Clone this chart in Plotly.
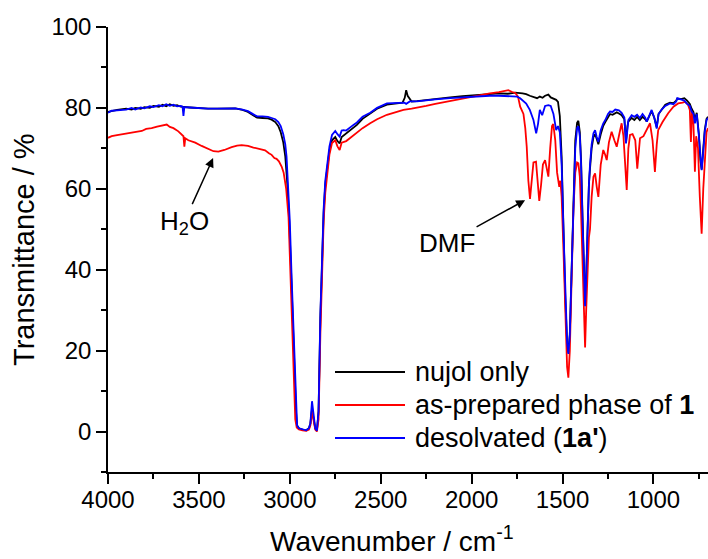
import plotly.graph_objects as go

# ---------------- data ----------------
nujol_wn = [4000, 3980, 3950, 3900, 3870, 3850, 3820, 3800, 3770, 3750, 3720, 3700, 3680, 3660, 3640, 3620,
            3600, 3550, 3500, 3450, 3400, 3350, 3300, 3260, 3230, 3200, 3180, 3150, 3120, 3100, 3080, 3063,
            3050, 3036, 3025, 3015, 3005, 2995, 2985, 2975, 2966, 2960, 2950, 2930, 2910, 2895, 2887, 2878,
            2870, 2860, 2851, 2842, 2832, 2823, 2814, 2805, 2796, 2782, 2768, 2750, 2738, 2726, 2715, 2704,
            2690, 2670, 2650, 2631, 2600, 2558, 2520, 2466, 2420, 2380, 2368, 2360, 2352, 2340, 2330, 2301,
            2250, 2200, 2118, 2050, 2000, 1950, 1900, 1850, 1800, 1760, 1720, 1700, 1680, 1660, 1640, 1625,
            1610, 1596, 1578, 1565, 1550, 1535, 1525, 1515, 1505, 1495, 1485, 1475, 1468, 1460, 1450, 1440,
            1430, 1420, 1413, 1405, 1398, 1390, 1382, 1376, 1370, 1362, 1355, 1349, 1340, 1330, 1321, 1312,
            1303, 1290, 1276, 1265, 1250, 1239, 1225, 1210, 1202, 1190, 1175, 1160, 1151, 1143, 1138, 1120,
            1105, 1090, 1075, 1060, 1045, 1037, 1025, 1010, 995, 982, 972, 955, 935, 909, 890, 875,
            869, 850, 830, 815, 800, 790, 780, 772, 762, 750, 742, 735, 728, 718, 708, 700]
nujol_T = [79.0, 79.2, 79.5, 79.8, 79.6, 80.0, 79.8, 80.2, 80.0, 80.5, 80.3, 80.8, 80.4, 80.9, 80.5, 80.7,
           80.3, 80.1, 79.9, 79.8, 79.8, 79.9, 79.9, 79.5, 79.0, 78.1, 77.6, 77.5, 77.4, 77.1, 76.5, 75.5,
           74.0, 71.5, 68.0, 62.0, 54.0, 42.0, 28.0, 15.0, 5.0, 1.5, 0.8, 0.5, 0.3, 0.8, 2.0, 5.5,
           3.5, 0.8, 0.2, 5.0, 28.0, 44.0, 54.0, 61.0, 65.0, 69.5, 72.0, 72.8, 71.8, 71.2, 72.8, 73.2,
           73.5, 74.2, 75.0, 75.8, 77.3, 78.6, 79.8, 80.8, 81.0, 81.3, 82.5, 84.4, 83.0, 82.2, 81.6, 81.7,
           82.0, 82.3, 82.6, 82.9, 83.1, 83.3, 83.5, 83.6, 83.5, 83.8, 83.6, 83.4, 83.0, 82.7, 82.4, 82.8,
           82.5, 83.0, 83.3, 82.6, 82.2, 82.0, 81.5, 78.0, 68.0, 50.0, 33.0, 22.0, 19.5, 24.0, 40.0, 60.0,
           72.0, 76.3, 76.8, 74.0, 67.0, 53.0, 39.0, 31.5, 38.0, 52.0, 61.0, 65.0, 70.0, 72.8, 73.5, 72.3,
           71.0, 73.5, 75.6, 76.5, 77.8, 78.5, 78.3, 78.8, 78.9, 78.6, 78.2, 77.2, 71.5, 75.5, 76.6, 77.5,
           77.0, 77.8, 77.0, 77.8, 77.2, 76.6, 77.8, 79.2, 77.5, 75.2, 78.5, 79.6, 80.8, 81.3, 81.2, 81.8,
           82.3, 82.2, 82.4, 81.8, 81.0, 79.8, 79.0, 77.0, 78.8, 73.5, 67.0, 64.8, 68.5, 74.5, 77.3, 77.8]

prep_wn = [4000, 3980, 3950, 3900, 3870, 3850, 3814, 3790, 3760, 3730, 3700, 3677, 3660, 3640, 3613, 3595,
           3585, 3580, 3575, 3558, 3520, 3485, 3450, 3420, 3393, 3360, 3320, 3290, 3265, 3230, 3200, 3160,
           3136, 3115, 3100, 3085, 3073, 3060, 3045, 3034, 3020, 3007, 2998, 2988, 2978, 2970, 2962, 2950,
           2930, 2910, 2895, 2887, 2878, 2870, 2860, 2851, 2842, 2832, 2823, 2814, 2805, 2796, 2782, 2768,
           2750, 2738, 2726, 2715, 2704, 2690, 2670, 2650, 2631, 2600, 2558, 2520, 2466, 2420, 2375, 2330,
           2301, 2250, 2200, 2118, 2050, 2000, 1950, 1900, 1850, 1820, 1798, 1780, 1760, 1745, 1733, 1715,
           1705, 1697, 1688, 1679, 1670, 1660, 1646, 1637, 1628, 1618, 1608, 1596, 1588, 1578, 1568, 1558,
           1551, 1540, 1530, 1518, 1512, 1505, 1495, 1485, 1475, 1468, 1460, 1450, 1440, 1430, 1420, 1413,
           1405, 1398, 1390, 1382, 1376, 1370, 1362, 1355, 1349, 1340, 1330, 1321, 1312, 1303, 1290, 1276,
           1266, 1257, 1245, 1230, 1215, 1202, 1188, 1175, 1165, 1147, 1138, 1129, 1115, 1100, 1089, 1080,
           1074, 1055, 1037, 1019, 1005, 992, 982, 974, 950, 919, 890, 864, 840, 827, 810, 800,
           794, 788, 780, 772, 765, 755, 745, 735, 726, 716, 708, 700]
prep_T = [72.6, 73.0, 73.3, 73.7, 73.9, 74.2, 74.3, 74.8, 75.0, 75.4, 75.6, 75.9, 75.3, 75.0, 74.2, 73.5,
          73.0, 70.4, 72.5, 72.0, 71.4, 70.6, 69.8, 69.3, 69.2, 69.6, 70.3, 70.7, 70.8, 70.6, 70.2, 69.8,
          69.5, 68.8, 68.4, 67.6, 67.4, 66.8, 65.5, 64.0, 60.0, 53.0, 42.0, 28.0, 13.0, 3.0, 1.0, 0.5,
          0.3, 0.2, 0.5, 1.5, 5.0, 2.5, 0.5, 0.0, 3.0, 24.0, 40.0, 52.0, 59.0, 63.5, 68.5, 71.3,
          72.0, 70.5, 69.6, 71.4, 71.6, 71.8, 72.5, 73.2, 73.7, 75.0, 76.2, 77.2, 78.3, 79.0, 79.5, 79.8,
          80.0, 80.5, 81.0, 81.8, 82.3, 82.7, 83.2, 83.6, 83.9, 84.2, 84.4, 84.0, 83.7, 82.8, 80.3, 78.5,
          75.0, 70.4, 62.0, 57.5, 62.0, 66.5, 66.7, 61.0, 57.0, 61.0, 66.0, 67.1, 65.0, 63.0, 70.0, 75.5,
          76.0, 72.0, 64.0, 60.5, 62.0, 58.0, 45.0, 28.0, 16.0, 13.3, 20.0, 38.0, 55.0, 64.0, 66.5, 66.3,
          63.0, 54.0, 40.0, 27.0, 20.8, 30.0, 42.0, 48.0, 50.0, 58.0, 63.0, 63.8, 60.5, 58.0, 66.0, 69.6,
          68.5, 67.1, 71.5, 74.1, 72.0, 70.4, 73.5, 76.2, 73.0, 59.7, 70.0, 73.3, 73.5, 72.0, 65.0, 70.0,
          72.5, 73.0, 74.5, 76.2, 72.0, 64.2, 71.0, 74.5, 76.5, 78.7, 80.3, 81.1, 81.3, 81.5, 80.8, 79.5,
          71.6, 79.0, 76.0, 64.2, 73.0, 70.0, 58.0, 48.9, 60.0, 70.0, 74.0, 75.0]

desolv_wn = [4000, 3980, 3950, 3900, 3870, 3850, 3820, 3800, 3770, 3750, 3720, 3700, 3680, 3660, 3640, 3620,
             3600, 3590, 3585, 3580, 3550, 3500, 3450, 3400, 3350, 3300, 3260, 3230, 3200, 3180, 3150, 3120,
             3100, 3080, 3063, 3050, 3036, 3025, 3018, 3007, 3000, 2990, 2979, 2970, 2964, 2960, 2950, 2930,
             2910, 2895, 2887, 2878, 2870, 2860, 2851, 2842, 2832, 2823, 2814, 2805, 2796, 2782, 2768, 2750,
             2738, 2726, 2715, 2704, 2690, 2670, 2650, 2631, 2600, 2558, 2520, 2466, 2420, 2393, 2370, 2360,
             2340, 2301, 2250, 2200, 2118, 2050, 2000, 1950, 1900, 1850, 1800, 1750, 1733, 1720, 1700, 1680,
             1660, 1645, 1635, 1625, 1612, 1596, 1578, 1565, 1550, 1535, 1525, 1515, 1505, 1495, 1485, 1475,
             1468, 1460, 1450, 1440, 1430, 1420, 1413, 1405, 1398, 1390, 1382, 1376, 1370, 1362, 1355, 1349,
             1340, 1330, 1321, 1312, 1303, 1290, 1276, 1265, 1250, 1239, 1225, 1210, 1202, 1190, 1175, 1160,
             1151, 1143, 1138, 1120, 1105, 1090, 1075, 1060, 1045, 1037, 1025, 1010, 995, 982, 972, 955,
             935, 909, 890, 875, 869, 850, 830, 815, 800, 790, 780, 772, 762, 750, 742, 735,
             728, 718, 708, 700]
desolv_T = [78.8, 79.3, 79.4, 79.6, 80.0, 79.6, 80.1, 79.9, 80.4, 80.2, 80.7, 80.4, 80.9, 80.5, 80.8, 80.4,
            80.5, 80.3, 78.0, 80.2, 80.1, 79.9, 79.8, 79.8, 79.9, 79.9, 79.6, 79.2, 78.4, 77.9, 77.9, 77.8,
            77.5, 77.2, 76.5, 75.5, 73.5, 71.0, 68.0, 60.0, 52.0, 38.0, 25.0, 10.0, 4.0, 1.5, 0.8, 0.5,
            0.3, 0.8, 2.0, 7.5, 4.0, 0.8, 0.2, 5.0, 29.0, 45.0, 55.0, 62.0, 66.0, 70.5, 73.3, 74.3,
            73.5, 72.9, 74.4, 74.5, 74.4, 75.2, 75.8, 76.4, 77.8, 78.8, 80.0, 81.1, 81.2, 81.3, 81.3, 81.0,
            81.6, 81.6, 81.9, 82.1, 82.4, 82.6, 82.8, 82.9, 83.0, 83.0, 82.9, 82.8, 82.4, 81.8, 81.1, 79.5,
            77.0, 73.7, 76.0, 79.5, 78.2, 80.5, 80.7, 80.5, 78.5, 74.5, 75.5, 74.0, 66.0, 50.0, 33.0, 22.0,
            19.2, 24.0, 40.0, 58.0, 70.0, 75.0, 75.5, 73.0, 66.0, 52.0, 38.0, 31.0, 38.0, 52.0, 61.0, 66.0,
            71.0, 73.7, 74.5, 72.8, 71.6, 74.5, 76.2, 77.0, 78.5, 79.1, 79.0, 79.6, 79.5, 79.4, 78.8, 77.6,
            71.2, 76.0, 77.0, 78.2, 77.8, 78.3, 77.5, 78.5, 77.6, 76.6, 78.0, 79.5, 77.5, 74.9, 78.5, 79.6,
            80.5, 81.1, 80.9, 81.6, 82.4, 82.1, 81.8, 81.0, 80.5, 79.1, 78.5, 76.2, 78.5, 73.0, 67.0, 64.6,
            68.0, 74.0, 77.0, 77.5]

series_names = ["nujol only", "as-prepared phase of <b>1</b>", "desolvated (<b>1a'</b>)"]
series_colors = ["#000000", "#ff0000", "#0000ff"]

x_range = [4000, 700]
y_range = [-10, 100]

# ---------------- figure ----------------
FONT = "Arial, 'Liberation Sans', sans-serif"
W, H = 708, 559
L, R, T, B = 108, 0, 27, 87
PW, PH = W - L - R, H - T - B


def px(x):
    return (x - L) / PW


def py(y):
    return (H - B - y) / PH


fig = go.Figure()
for wn, tr, col, nm in zip([nujol_wn, prep_wn, desolv_wn], [nujol_T, prep_T, desolv_T],
                           series_colors, series_names):
    fig.add_trace(go.Scatter(x=wn, y=tr, mode="lines", name=nm,
                             line=dict(color=col, width=1.8), showlegend=False))

axis_common = dict(showline=True, linecolor="black", linewidth=1.5, mirror=False,
                   ticks="outside", ticklen=10, tickwidth=1.5, tickcolor="black",
                   showgrid=False, zeroline=False,
                   tickfont=dict(family=FONT, size=24, color="black"))

fig.update_xaxes(range=x_range, autorange=False, dtick=500, tick0=0, ticklabelstandoff=-5,
                 minor=dict(ticks="outside", ticklen=5, tickwidth=1.5, dtick=250, tickcolor="black",
                            showgrid=False),
                 **axis_common)
fig.update_yaxes(range=y_range, autorange=False, dtick=20, tick0=0,
                 minor=dict(ticks="outside", ticklen=5, tickwidth=1.5, dtick=10, tickcolor="black",
                            showgrid=False),
                 **axis_common)

annotations = []
# axis titles
annotations.append(dict(text="Wavenumber / cm<sup>-1</sup>", xref="paper", yref="paper",
                        x=px(392), y=py(539), xanchor="center", yanchor="middle", showarrow=False,
                        font=dict(family=FONT, size=28, color="black")))
annotations.append(dict(text="Transmittance / %", xref="paper", yref="paper", textangle=-90,
                        x=px(24), y=py(249), xanchor="center", yanchor="middle", showarrow=False,
                        font=dict(family=FONT, size=29, color="black")))
# legend (manual)
leg_rows = [372, 405, 438]
shapes = []
for yy, col, nm in zip(leg_rows, series_colors, series_names):
    shapes.append(dict(type="line", xref="paper", yref="paper", x0=px(335), x1=px(405),
                       y0=py(yy), y1=py(yy), line=dict(color=col, width=1.8)))
    annotations.append(dict(text=nm, xref="paper", yref="paper", x=px(413), y=py(yy),
                            xanchor="left", yanchor="middle", showarrow=False,
                            font=dict(family=FONT, size=27, color="black")))
# H2O label with arrow (x, y = arrow head; ax, ay = label centre offset in px)
annotations.append(dict(text="H<sub>2</sub>O", x=3422, y=67.6, xref="x", yref="y", showarrow=True,
                        ax=-29, ay=64, arrowhead=2, arrowsize=1.2, arrowwidth=1.5, arrowcolor="black",
                        font=dict(family=FONT, size=26, color="black")))
# DMF label with arrow
annotations.append(dict(text="DMF", x=1706, y=57.2, xref="x", yref="y", showarrow=True,
                        ax=-78, ay=43, arrowhead=2, arrowsize=1.2, arrowwidth=1.5, arrowcolor="black",
                        font=dict(family=FONT, size=26, color="black")))

fig.update_layout(width=W, height=H, margin=dict(l=L, r=R, t=T, b=B, pad=0),
                  paper_bgcolor="white", plot_bgcolor="white", showlegend=False,
                  font=dict(family=FONT, color="black"),
                  annotations=annotations, shapes=shapes)

fig.write_html("out.html", config={"displayModeBar": False},
               post_script="document.body.style.margin='0';")
